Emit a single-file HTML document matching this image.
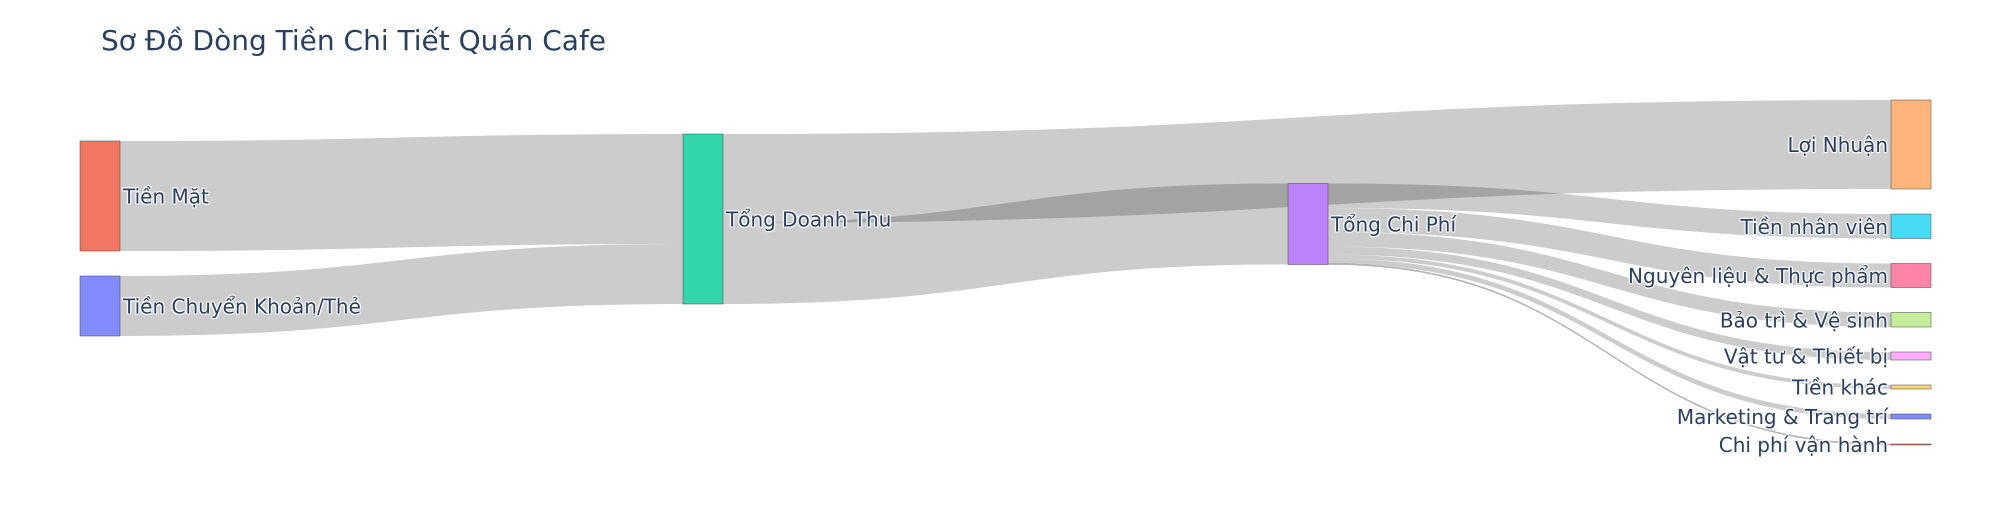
<!DOCTYPE html>
<html>
<head>
<meta charset="utf-8">
<style>
  html,body{margin:0;padding:0;background:#fff;}
  svg{display:block;}
  text{font-family:"DejaVu Sans","Liberation Sans","Noto Sans CJK SC",sans-serif;fill:#2a3f5f;}
  .lbl{font-size:20px;text-shadow:1px 1px 1px #fff,-1px -1px 1px #fff,1px -1px 1px #fff,-1px 1px 1px #fff;}
</style>
</head>
<body>
<svg id="chart" width="2010" height="525" viewBox="0 0 2010 525" xmlns="http://www.w3.org/2000/svg">
  <rect x="0" y="0" width="2010" height="525" fill="#fff"/>
  <text x="101" y="50" font-size="28">Sơ Đồ Dòng Tiền Chi Tiết Quán Cafe</text>
  <g id="links"></g>
  <g id="nodes"></g>
  <g id="labels"></g>
</svg>
<script>
const nodeNames = ["Tiền Mặt","Tiền Chuyển Khoản/Thẻ","Tổng Doanh Thu","Tổng Chi Phí","Lợi Nhuận",
  "Tiền nhân viên","Nguyên liệu & Thực phẩm","Bảo trì & Vệ sinh","Vật tư & Thiết bị","Tiền khác","Marketing & Trang trí","Chi phí vận hành"];
const nodeColumn = [0,0,1,2,3,3,3,3,3,3,3,3];
const linkSource = [0,1,2,2,3,3,3,3,3,3,3];
const linkTarget = [2,2,4,3,5,6,7,8,9,10,11];
const linkValue  = [220,120,178,162,49,48,29,16,8,10,2];

// layout / style constants
const nodeColors = ["#f27762","#828bfb","#33d6ab","#bc82fb","#ffb47b","#47dcf5","#ff85a8","#c5ed99","#ffacff","#fed575","#828bfb","#f27762"];
const colX = [80,683,1288,1891];
const colTop = [141,134,183.5,100];
const nodeW = 40, pad = 25, k = 0.5;

const svg = document.getElementById('chart');
const NS = "http://www.w3.org/2000/svg";
const n = nodeNames.length;
const inSum = new Array(n).fill(0), outSum = new Array(n).fill(0);
linkValue.forEach((v,i)=>{ outSum[linkSource[i]] += v; inSum[linkTarget[i]] += v; });
const nodeH = nodeNames.map((_,i)=>Math.max(inSum[i],outSum[i])*k);
const nodeY = new Array(n);
const colCursor = colTop.slice();
for (let i=0;i<n;i++){ const c=nodeColumn[i]; nodeY[i]=colCursor[c]; colCursor[c]+=nodeH[i]+pad; }

const outOff = new Array(n).fill(0), inOff = new Array(n).fill(0);
const idx = linkValue.map((_,i)=>i);
const srcY = [], tgtY = [];
idx.slice().sort((a,b)=>linkSource[a]-linkSource[b] || nodeY[linkTarget[a]]-nodeY[linkTarget[b]]).forEach(i=>{
  srcY[i] = nodeY[linkSource[i]] + outOff[linkSource[i]]; outOff[linkSource[i]] += linkValue[i]*k;
});
idx.slice().sort((a,b)=>linkTarget[a]-linkTarget[b] || nodeY[linkSource[a]]-nodeY[linkSource[b]]).forEach(i=>{
  tgtY[i] = nodeY[linkTarget[i]] + inOff[linkTarget[i]]; inOff[linkTarget[i]] += linkValue[i]*k;
});
const gL = document.getElementById('links');
idx.forEach(i=>{
  const h = linkValue[i]*k;
  const x0 = colX[nodeColumn[linkSource[i]]]+nodeW, x1 = colX[nodeColumn[linkTarget[i]]];
  const xm = (x0+x1)/2, y0 = srcY[i], y1 = tgtY[i];
  const p = document.createElementNS(NS,'path');
  p.setAttribute('d',`M${x0},${y0}C${xm},${y0} ${xm},${y1} ${x1},${y1}L${x1},${y1+h}C${xm},${y1+h} ${xm},${y0+h} ${x0},${y0+h}Z`);
  p.setAttribute('fill','rgba(0,0,0,0.2)');
  p.setAttribute('stroke','#888');
  p.setAttribute('stroke-width', h<1.5 ? '0.4' : '0');
  
  
  gL.appendChild(p);
});
const gN = document.getElementById('nodes'), gT = document.getElementById('labels');
for (let i=0;i<n;i++){
  const c = nodeColumn[i];
  const r = document.createElementNS(NS,'rect');
  r.setAttribute('x',colX[c]); r.setAttribute('y',nodeY[i]);
  r.setAttribute('width',nodeW); r.setAttribute('height',Math.max(nodeH[i],0.5));
  r.setAttribute('fill',nodeColors[i]); r.setAttribute('stroke','#444'); r.setAttribute('stroke-width','0.5');
  
  
  gN.appendChild(r);
  const t = document.createElementNS(NS,'text');
  const last = c===colX.length-1;
  t.setAttribute('x', last ? colX[c]-3 : colX[c]+nodeW+3);
  t.setAttribute('y', nodeY[i]+nodeH[i]/2+7.5);
  t.setAttribute('text-anchor', last ? 'end' : 'start');
  t.setAttribute('class','lbl');
  t.textContent = nodeNames[i];
  
  
  gT.appendChild(t);
}
</script>
</body>
</html>
